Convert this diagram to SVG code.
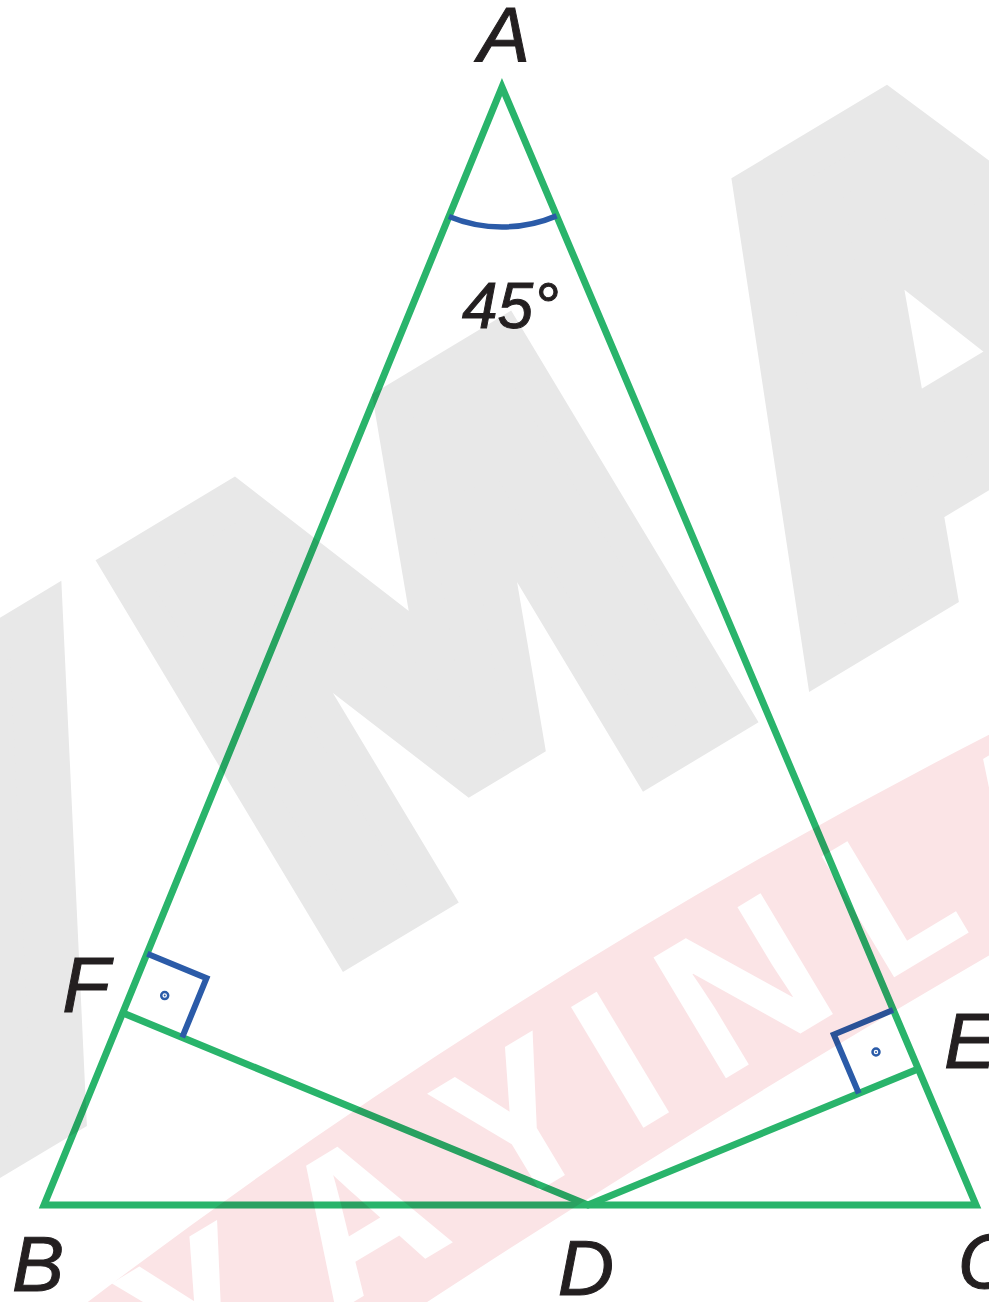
<svg xmlns="http://www.w3.org/2000/svg" width="989" height="1302" viewBox="0 0 989 1302">
<style>
.seg{stroke:#29b46b;stroke-width:7;fill:none;stroke-linejoin:miter;stroke-miterlimit:10}
.mark{stroke:#2b5ba8;stroke-width:6;fill:none;stroke-linejoin:miter}
.arc{stroke:#2b5ba8;stroke-width:5.5;fill:none}
.lbl{font-family:"Liberation Sans",Arial,sans-serif;font-style:italic;font-size:78px;fill:#231f20;stroke:#231f20;stroke-width:1}
.wmg{font-family:"DejaVu Sans","Liberation Sans",sans-serif;font-weight:bold;font-size:604px;fill:#e8e8e8;stroke:#e8e8e8;stroke-width:40;stroke-linejoin:miter}
.wmp{font-family:"Open Sans","Liberation Sans",sans-serif;font-weight:bold;font-size:197px;fill:#ffffff;text-anchor:middle}
.blend{mix-blend-mode:multiply}
</style>
<rect width="989" height="1302" fill="#ffffff"/>
<g id="connectors">
  <polygon class="seg" points="502,87 44,1205 976,1205"/>
  <polyline class="seg" points="123,1013 588,1205 918,1069"/>
</g>
<g id="angle-A">
  <path class="arc" d="M 448.9 216.5 A 140 140 0 0 0 556.6 215.9"/>
</g>
<g id="right-angle-F">
  <polyline class="mark" points="147.3,953.8 206.5,978.2 182.2,1037.4"/>
  <circle cx="164.7" cy="995.6" r="3.5" fill="#ffffff" stroke="#2b5ba8" stroke-width="2.5"/>
  <circle cx="164.7" cy="995.6" r="1" fill="#2b5ba8"/>
</g>
<g id="right-angle-E">
  <polyline class="mark" points="893,1010.1 833.8,1034.5 858.8,1093.4"/>
  <circle cx="876" cy="1052" r="3.5" fill="#ffffff" stroke="#2b5ba8" stroke-width="2.5"/>
  <circle cx="876" cy="1052" r="1" fill="#2b5ba8"/>
</g>
<g id="watermark-gray" class="blend">
  <g transform="translate(328,981) rotate(-31)">
    <text class="wmg" x="-740" y="-20" textLength="680" lengthAdjust="spacingAndGlyphs">V</text>
    <text class="wmg" x="-15" y="-20" textLength="550" lengthAdjust="spacingAndGlyphs">M</text>
    <text class="wmg" x="590" y="-20" textLength="520" lengthAdjust="spacingAndGlyphs">A</text>
  </g>
</g>
<g id="watermark-band" class="blend">
  <g transform="translate(643,1128) rotate(-31)">
    <path d="M -900 -91 Q -50 -231 800 -131 L 800 43 Q -50 3 -900 77 Z" fill="#fbe4e6"/>
    <text class="wmp" x="-474" y="0">Y</text>
    <text class="wmp" x="-290" y="0">A</text>
    <text class="wmp" x="-106" y="0">Y</text>
    <text class="wmp" x="15.5" y="0">I</text>
    <text class="wmp" x="159" y="0">N</text>
    <text class="wmp" x="331" y="0">L</text>
    <text class="wmp" x="500" y="0">A</text>
  </g>
</g>
<g id="node-A"><text class="lbl" x="504" y="62" text-anchor="middle">A</text></g>
<g id="node-B"><text class="lbl" x="38" y="1291" text-anchor="middle">B</text></g>
<g id="node-C"><text class="lbl" x="986" y="1288" text-anchor="middle">C</text></g>
<g id="node-D"><text class="lbl" x="586" y="1295" text-anchor="middle">D</text></g>
<g id="node-E"><text class="lbl" x="970" y="1068" text-anchor="middle">E</text></g>
<g id="node-F"><text class="lbl" x="86" y="1012" text-anchor="middle">F</text></g>
<g id="label-45"><text class="lbl" x="462" y="328" style="font-size:64px">45°</text></g>
</svg>
